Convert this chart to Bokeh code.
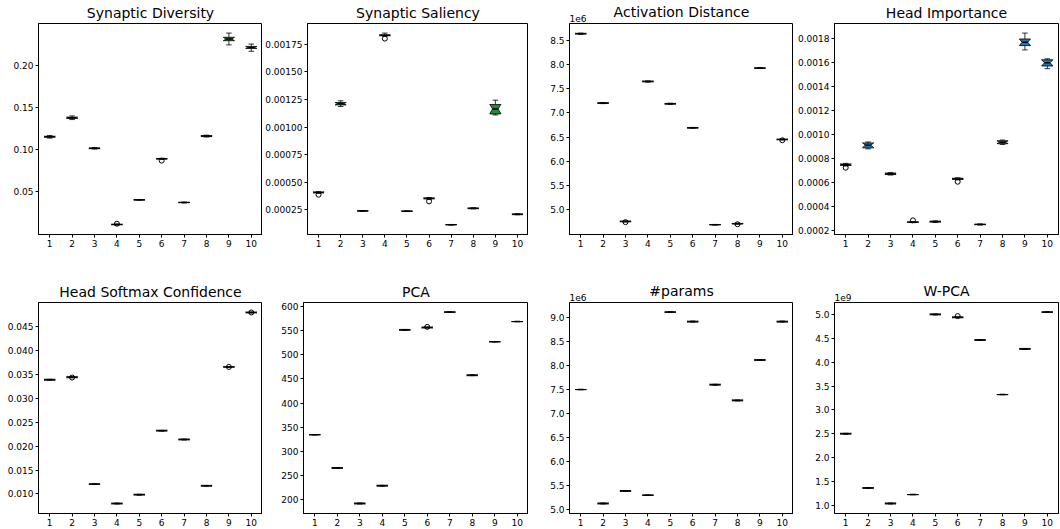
import math
from bokeh.plotting import figure
from bokeh.layouts import column, row
from bokeh.models import Range1d, FixedTicker, PrintfTickFormatter, Title
from bokeh.embed import file_html
from bokeh.resources import INLINE

POSITIONS = [1, 2, 3, 4, 5, 6, 7, 8, 9, 10]
N_RUNS = 10

# ---------------- Synaptic Diversity ----------------
sd_med = [0.1151, 0.1376, 0.1014, 0.0111, 0.0403, 0.0890, 0.0372, 0.1159, 0.2310, 0.2210]
sd_q1 = [0.1146, 0.1368, 0.1010, 0.0108, 0.0401, 0.0887, 0.0370, 0.1153, 0.2290, 0.2198]
sd_q3 = [0.1157, 0.1384, 0.1018, 0.0114, 0.0405, 0.0893, 0.0374, 0.1165, 0.2330, 0.2222]
sd_wlo = [0.1135, 0.1355, 0.1005, 0.0106, 0.0399, 0.0884, 0.0368, 0.1148, 0.2240, 0.2164]
sd_whi = [0.1166, 0.1398, 0.1022, 0.0116, 0.0407, 0.0896, 0.0376, 0.1170, 0.2380, 0.2250]
sd_out_pos = [4, 6]
sd_out_val = [0.0120, 0.0868]
sd_ticks = [0.05, 0.10, 0.15, 0.20]

# ---------------- Synaptic Saliency ----------------
ss_med = [0.000408, 0.001210, 0.000241, 0.001830, 0.000238, 0.000354, 0.000116, 0.000264, 0.001163, 0.000210]
ss_q1 = [0.000404, 0.001200, 0.000239, 0.001826, 0.000236, 0.000350, 0.000115, 0.000261, 0.001118, 0.000207]
ss_q3 = [0.000412, 0.001222, 0.000243, 0.001834, 0.000240, 0.000358, 0.000117, 0.000267, 0.001204, 0.000213]
ss_wlo = [0.000400, 0.001186, 0.000238, 0.001822, 0.000235, 0.000346, 0.000114, 0.000259, 0.001109, 0.000205]
ss_whi = [0.000415, 0.001237, 0.000244, 0.001850, 0.000241, 0.000362, 0.000118, 0.000269, 0.001243, 0.000215]
ss_out_pos = [1, 4, 6]
ss_out_val = [0.000387, 0.001800, 0.000327]
ss_ticks = [0.00025, 0.00050, 0.00075, 0.00100, 0.00125, 0.00150, 0.00175]

# ---------------- Activation Distance ----------------
ad_med = [8.634e6, 7.203e6, 4.763e6, 7.649e6, 7.189e6, 6.693e6, 4.696e6, 4.716e6, 7.924e6, 6.453e6]
ad_q1 = [8.626e6, 7.196e6, 4.756e6, 7.641e6, 7.181e6, 6.687e6, 4.693e6, 4.712e6, 7.918e6, 6.447e6]
ad_q3 = [8.641e6, 7.209e6, 4.769e6, 7.656e6, 7.196e6, 6.699e6, 4.699e6, 4.722e6, 7.930e6, 6.459e6]
ad_wlo = [8.621e6, 7.192e6, 4.754e6, 7.637e6, 7.177e6, 6.684e6, 4.691e6, 4.709e6, 7.915e6, 6.444e6]
ad_whi = [8.646e6, 7.213e6, 4.773e6, 7.660e6, 7.200e6, 6.702e6, 4.701e6, 4.726e6, 7.933e6, 6.462e6]
ad_out_pos = [3, 8, 10]
ad_out_val = [4.748e6, 4.705e6, 6.436e6]
ad_ticks = [5.0e6, 5.5e6, 6.0e6, 6.5e6, 7.0e6, 7.5e6, 8.0e6, 8.5e6]

# ---------------- Head Importance ----------------
hi_med = [0.000746, 0.000908, 0.000670, 0.000268, 0.000272, 0.000628, 0.000249, 0.000933, 0.001765, 0.001594]
hi_q1 = [0.000740, 0.000886, 0.000664, 0.000266, 0.000269, 0.000624, 0.000247, 0.000921, 0.001737, 0.001567]
hi_q3 = [0.000752, 0.000927, 0.000676, 0.000270, 0.000276, 0.000633, 0.000251, 0.000945, 0.001792, 0.001619]
hi_wlo = [0.000735, 0.000878, 0.000660, 0.000264, 0.000266, 0.000620, 0.000245, 0.000914, 0.001701, 0.001545]
hi_whi = [0.000757, 0.000935, 0.000680, 0.000272, 0.000279, 0.000637, 0.000253, 0.000951, 0.001841, 0.001627]
hi_out_pos = [1, 4, 6]
hi_out_val = [0.000721, 0.000283, 0.000604]
hi_ticks = [0.0002, 0.0004, 0.0006, 0.0008, 0.0010, 0.0012, 0.0014, 0.0016, 0.0018]

# ---------------- Head Softmax Confidence ----------------
hs_med = [0.03388, 0.03440, 0.01206, 0.00800, 0.00986, 0.02324, 0.02139, 0.01171, 0.03656, 0.04794]
hs_q1 = [0.03378, 0.03430, 0.01206, 0.00792, 0.00978, 0.02316, 0.02131, 0.01163, 0.03656, 0.04786]
hs_q3 = [0.03398, 0.03452, 0.01206, 0.00808, 0.00994, 0.02332, 0.02147, 0.01179, 0.03656, 0.04802]
hs_out_pos = [2, 9, 10]
hs_out_val = [0.03434, 0.03656, 0.04794]
hs_ticks = [0.010, 0.015, 0.020, 0.025, 0.030, 0.035, 0.040, 0.045]

# ---------------- PCA ----------------
pca_med = [334.7, 265.9, 192.4, 229.2, 551.6, 556.5, 588.4, 457.7, 527.1, 568.8]
pca_q1 = [334.7, 265.0, 191.5, 228.3, 550.7, 555.6, 588.4, 456.8, 527.1, 568.8]
pca_q3 = [334.7, 266.8, 193.3, 230.1, 552.5, 557.4, 588.4, 458.6, 527.1, 568.8]
pca_out_pos = [6]
pca_out_val = [557.8]
pca_ticks = [200, 250, 300, 350, 400, 450, 500, 550, 600]

# ---------------- #params ----------------
np_med = [7.501e6, 5.135e6, 5.395e6, 5.307e6, 9.110e6, 8.912e6, 7.603e6, 7.276e6, 8.115e6, 8.912e6]
np_q1 = [7.501e6, 5.126e6, 5.386e6, 5.307e6, 9.110e6, 8.903e6, 7.594e6, 7.267e6, 8.106e6, 8.903e6]
np_q3 = [7.501e6, 5.144e6, 5.404e6, 5.307e6, 9.110e6, 8.921e6, 7.612e6, 7.285e6, 8.124e6, 8.921e6]
np_out_pos = []
np_out_val = []
np_ticks = [5.0e6, 5.5e6, 6.0e6, 6.5e6, 7.0e6, 7.5e6, 8.0e6, 8.5e6, 9.0e6]

# ---------------- W-PCA ----------------
wp_med = [2.499e9, 1.359e9, 1.033e9, 1.220e9, 5.006e9, 4.944e9, 4.467e9, 3.321e9, 4.281e9, 5.054e9]
wp_q1 = [2.490e9, 1.350e9, 1.024e9, 1.220e9, 4.997e9, 4.935e9, 4.458e9, 3.321e9, 4.272e9, 5.054e9]
wp_q3 = [2.508e9, 1.368e9, 1.042e9, 1.220e9, 5.015e9, 4.953e9, 4.476e9, 3.321e9, 4.290e9, 5.054e9]
wp_out_pos = [6]
wp_out_val = [4.970e9]
wp_ticks = [1.0e9, 1.5e9, 2.0e9, 2.5e9, 3.0e9, 3.5e9, 4.0e9, 4.5e9, 5.0e9]

GREEN = "#23893c"
BLUE = "#1f77b4"
FONT = "DejaVu Sans"

panels = [
    dict(title="Synaptic Diversity", med=sd_med, q1=sd_q1, q3=sd_q3, wlo=sd_wlo, whi=sd_whi,
         op=sd_out_pos, ov=sd_out_val, ticks=sd_ticks, fmt="%.2f", scale=1.0, off=None, fill=GREEN),
    dict(title="Synaptic Saliency", med=ss_med, q1=ss_q1, q3=ss_q3, wlo=ss_wlo, whi=ss_whi,
         op=ss_out_pos, ov=ss_out_val, ticks=ss_ticks, fmt="%.5f", scale=1.0, off=None, fill=GREEN),
    dict(title="Activation Distance", med=ad_med, q1=ad_q1, q3=ad_q3, wlo=ad_wlo, whi=ad_whi,
         op=ad_out_pos, ov=ad_out_val, ticks=ad_ticks, fmt="%.1f", scale=1e6, off="1e6", fill="white"),
    dict(title="Head Importance", med=hi_med, q1=hi_q1, q3=hi_q3, wlo=hi_wlo, whi=hi_whi,
         op=hi_out_pos, ov=hi_out_val, ticks=hi_ticks, fmt="%.4f", scale=1.0, off=None, fill=BLUE),
    dict(title="Head Softmax Confidence", med=hs_med, q1=hs_q1, q3=hs_q3, wlo=hs_q1, whi=hs_q3,
         op=hs_out_pos, ov=hs_out_val, ticks=hs_ticks, fmt="%.3f", scale=1.0, off=None, fill="white"),
    dict(title="PCA", med=pca_med, q1=pca_q1, q3=pca_q3, wlo=pca_q1, whi=pca_q3,
         op=pca_out_pos, ov=pca_out_val, ticks=pca_ticks, fmt="%.0f", scale=1.0, off=None, fill="white"),
    dict(title="#params", med=np_med, q1=np_q1, q3=np_q3, wlo=np_q1, whi=np_q3,
         op=np_out_pos, ov=np_out_val, ticks=np_ticks, fmt="%.1f", scale=1e6, off="1e6", fill="white"),
    dict(title="W-PCA", med=wp_med, q1=wp_q1, q3=wp_q3, wlo=wp_q1, whi=wp_q3,
         op=wp_out_pos, ov=wp_out_val, ticks=wp_ticks, fmt="%.1f", scale=1e9, off="1e9", fill="white"),
]

COL_W = [262, 266, 265, 267]
COL_BL = [38, 41, 41, 41]
COL_BR = [0, 0, 0, 2]
ROW_H = [279, 250]
ROW_BT = [22, 22]
ROW_BB = [45, 16]

BOX_W = 0.5
TITLE_STANDOFF = 5
OFF_STANDOFF = 3
OFF_PANEL_H = 21


def make_panel(cfg, ci, ri):
    s = cfg["scale"]
    med = [v / s for v in cfg["med"]]
    q1 = [v / s for v in cfg["q1"]]
    q3 = [v / s for v in cfg["q3"]]
    wlo = [v / s for v in cfg["wlo"]]
    whi = [v / s for v in cfg["whi"]]
    ov = [v / s for v in cfg["ov"]]
    lo = min(wlo + ov)
    hi = max(whi + ov)
    pad = 0.05 * (hi - lo)

    p = figure(width=COL_W[ci], height=ROW_H[ri],
               x_range=Range1d(0.5, 10.5), y_range=Range1d(lo - pad, hi + pad),
               output_backend="svg", toolbar_location=None,
               min_border=0, min_border_left=COL_BL[ci], min_border_right=COL_BR[ci],
               min_border_top=ROW_BT[ri], min_border_bottom=ROW_BB[ri])

    off_h = 0
    if cfg["off"]:
        # offset text ("1e6") sits just above the frame, left aligned
        p.add_layout(Title(text=cfg["off"], align="left", text_font=FONT,
                           text_font_size="9px", text_font_style="normal",
                           text_color="black", standoff=OFF_STANDOFF), "above")
        off_h = OFF_PANEL_H

    p.title.text = cfg["title"]
    p.title.align = "center"
    p.title.text_font = FONT
    p.title.text_font_size = "14px"
    p.title.text_font_style = "normal"
    p.title.text_color = "black"
    p.title.standoff = TITLE_STANDOFF - off_h
    p.xgrid.visible = False
    p.ygrid.visible = False
    p.outline_line_color = "black"
    p.outline_line_width = 1
    p.outline_line_alpha = 1.0
    p.background_fill_color = "white"
    p.border_fill_color = "white"
    for ax in (p.xaxis[0], p.yaxis[0]):
        ax.major_tick_out = 3
        ax.major_tick_in = 0
        ax.minor_tick_out = 0
        ax.minor_tick_in = 0
        ax.major_tick_line_color = "black"
        ax.axis_line_color = "black"
        ax.major_label_text_font = FONT
        ax.major_label_text_font_size = "9px"
        ax.major_label_text_color = "black"
        ax.major_label_standoff = 2
    p.xaxis.ticker = FixedTicker(ticks=POSITIONS)
    p.yaxis.ticker = FixedTicker(ticks=[t / s for t in cfg["ticks"]])
    p.yaxis.formatter = PrintfTickFormatter(format=cfg["fmt"])

    # notched boxes (matplotlib style)
    xs, ys = [], []
    for x, m, a, b in zip(POSITIONS, med, q1, q3):
        n = 1.57 * (b - a) / math.sqrt(N_RUNS)
        l, r = x - BOX_W / 2, x + BOX_W / 2
        cl, cr = x - BOX_W / 4, x + BOX_W / 4
        xs.append([l, r, r, cr, r, r, l, l, cl, l])
        ys.append([a, a, m - n, m, m + n, b, b, m + n, m, m - n])
    p.patches(xs=xs, ys=ys, fill_color=cfg["fill"], line_color="black", line_width=0.8)

    # whiskers
    p.segment(x0=POSITIONS, y0=q1, x1=POSITIONS, y1=wlo, line_color="black", line_width=0.8)
    p.segment(x0=POSITIONS, y0=q3, x1=POSITIONS, y1=whi, line_color="black", line_width=0.8)
    # caps
    cx0 = [x - BOX_W / 4 for x in POSITIONS]
    cx1 = [x + BOX_W / 4 for x in POSITIONS]
    p.segment(x0=cx0, y0=wlo, x1=cx1, y1=wlo, line_color="black", line_width=0.8)
    p.segment(x0=cx0, y0=whi, x1=cx1, y1=whi, line_color="black", line_width=0.8)
    # medians
    p.segment(x0=cx0, y0=med, x1=cx1, y1=med, line_color="black", line_width=1.5)
    # fliers
    if cfg["op"]:
        p.scatter(x=cfg["op"], y=ov, marker="circle", size=5, fill_color=None,
                  line_color="black", line_width=1)
    return p


figs = [make_panel(cfg, i % 4, i // 4) for i, cfg in enumerate(panels)]
layout = column(row(*figs[:4]), row(*figs[4:]))

open("out.html", "w").write(file_html(layout, INLINE))
